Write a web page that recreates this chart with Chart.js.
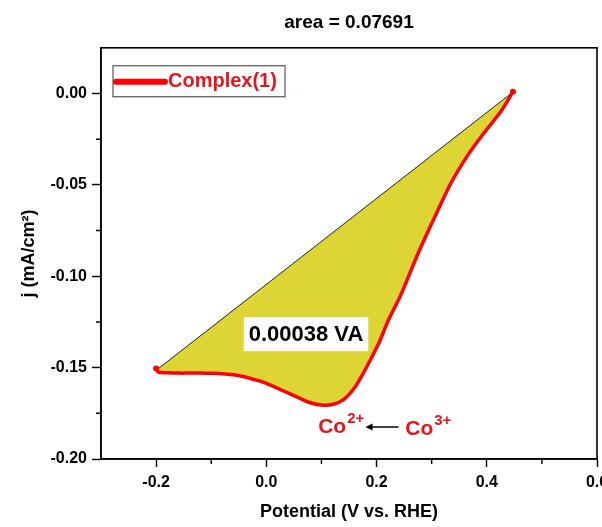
<!DOCTYPE html>
<html>
<head>
<meta charset="utf-8">
<script src="https://cdn.jsdelivr.net/npm/chart.js@4/dist/chart.umd.min.js"></script>
<style>
  html, body { margin:0; padding:0; background:#fff; }
  #wrap { width:602px; height:527px; }
</style>
</head>
<body>
<div id="wrap"><canvas id="chart" width="602" height="527"></canvas></div>
<script>
const FONT = "'Liberation Sans', Arial, sans-serif";

// CV trace (cathodic sweep)
const potential = [-0.200, -0.196, -0.180, -0.160, -0.140, -0.120, -0.100, -0.080, -0.060, -0.045,
  -0.030, -0.015, 0.000, 0.020, 0.040, 0.060, 0.080, 0.100, 0.120, 0.140, 0.160, 0.175, 0.190,
  0.205, 0.220, 0.245, 0.275, 0.305, 0.335, 0.365, 0.395, 0.425, 0.4475];
const current = [-0.1505, -0.1524, -0.1528, -0.1530, -0.1530, -0.1530, -0.1531, -0.1533, -0.1539, -0.1547,
  -0.1558, -0.1571, -0.1586, -0.1612, -0.1640, -0.1667, -0.1692, -0.1705, -0.1702, -0.1675, -0.1610, -0.1535, -0.1450,
  -0.1360, -0.1250, -0.1095, -0.0877, -0.0680, -0.0490, -0.0340, -0.0215, -0.0100, 0.0010];

// straight baseline used for the area integration
const baseX = [-0.200, 0.4475];
const baseY = [-0.1515, 0.0008];

const X_TICKS = [-0.2, 0.0, 0.2, 0.4, 0.6];
const Y_TICKS = [-0.20, -0.15, -0.10, -0.05, 0.00];
const X_MINOR = [-0.1, 0.1, 0.3, 0.5];
const Y_MINOR = [-0.175, -0.125, -0.075, -0.025];

const seriesName = "Complex(1)";
const areaText = "0.00038 VA";
const areaPos = { x: 0.072, y: -0.1317 };
const co2Pos = { x: 0.094, y: -0.1858 };
const co3Pos = { x: 0.252, y: -0.1866 };
const arrowFrom = { x: 0.240, y: -0.1825 };
const arrowTo = { x: 0.180, y: -0.1825 };

const toXY = (xs, ys) => xs.map((x, i) => ({ x, y: ys[i] }));

// outward minor ticks + closed frame
const framePlugin = {
  id: "frame",
  afterDraw(chart) {
    const { ctx, chartArea: a, scales: { x, y } } = chart;
    ctx.save();
    ctx.strokeStyle = "#000"; ctx.lineWidth = 1.6;
    ctx.strokeRect(a.left, a.top, a.right - a.left, a.bottom - a.top);
    ctx.lineWidth = 1.4;
    ctx.beginPath();
    X_MINOR.forEach(v => { const px = x.getPixelForValue(v); ctx.moveTo(px, a.bottom); ctx.lineTo(px, a.bottom + 5); });
    Y_MINOR.forEach(v => { const py = y.getPixelForValue(v); ctx.moveTo(a.left, py); ctx.lineTo(a.left - 5, py); });
    ctx.stroke();
    ctx.restore();
  }
};

// legend box, area label and Co2+/Co3+ note
const notesPlugin = {
  id: "notes",
  afterDraw(chart) {
    const { ctx, chartArea: a, scales: { x, y } } = chart;
    ctx.save();
    // legend
    const lx = a.left + 12, ly = a.top + 18;
    ctx.strokeStyle = "#333"; ctx.lineWidth = 1;
    ctx.strokeRect(lx, ly, 172, 31);
    ctx.strokeStyle = "#ff0000"; ctx.lineWidth = 6; ctx.lineCap = "round";
    ctx.beginPath(); ctx.moveTo(lx + 3, ly + 16); ctx.lineTo(lx + 52, ly + 16); ctx.stroke();
    ctx.fillStyle = "#e8141c"; ctx.font = `bold 20px ${FONT}`;
    ctx.textAlign = "left"; ctx.textBaseline = "middle";
    ctx.fillText(seriesName, lx + 55, ly + 16);

    // area label on white box
    ctx.font = `bold 22px ${FONT}`;
    const ax = x.getPixelForValue(areaPos.x), ay = y.getPixelForValue(areaPos.y);
    const w = ctx.measureText(areaText).width;
    ctx.fillStyle = "#fff";
    ctx.fillRect(ax - w / 2 - 5, ay - 17, w + 10, 34);
    ctx.fillStyle = "#000"; ctx.textAlign = "center";
    ctx.fillText(areaText, ax, ay + 1);

    // Co labels
    ctx.textAlign = "left"; ctx.textBaseline = "alphabetic"; ctx.fillStyle = "#e8141c";
    const drawCo = (p, sup) => {
      const px = x.getPixelForValue(p.x), py = y.getPixelForValue(p.y);
      ctx.font = `bold 21px ${FONT}`;
      ctx.fillText("Co", px, py);
      const cw = ctx.measureText("Co").width;
      ctx.font = `bold 15px ${FONT}`;
      ctx.fillText(sup, px + cw + 1, py - 10);
    };
    drawCo(co2Pos, "2+");
    drawCo(co3Pos, "3+");

    // arrow
    const x1 = x.getPixelForValue(arrowFrom.x), y1 = y.getPixelForValue(arrowFrom.y);
    const x2 = x.getPixelForValue(arrowTo.x), y2 = y.getPixelForValue(arrowTo.y);
    ctx.strokeStyle = "#000"; ctx.lineWidth = 1.5; ctx.lineCap = "butt";
    ctx.beginPath(); ctx.moveTo(x1, y1); ctx.lineTo(x2 + 4, y2); ctx.stroke();
    ctx.fillStyle = "#000";
    ctx.beginPath(); ctx.moveTo(x2, y2); ctx.lineTo(x2 + 7, y2 - 3.5); ctx.lineTo(x2 + 7, y2 + 3.5); ctx.closePath(); ctx.fill();
    ctx.restore();
  }
};

const tickFont = { family: FONT, size: 16, weight: "bold" };
const titleFont = { family: FONT, size: 18, weight: "bold" };

new Chart(document.getElementById("chart").getContext("2d"), {
  type: "scatter",
  data: {
    datasets: [
      {
        label: seriesName, data: toXY(potential, current), showLine: true,
        borderColor: "#ff0000", borderWidth: 3.5, tension: 0.3,
        pointRadius: (c) => (c.dataIndex === 0 || c.dataIndex === potential.length - 1) ? 3 : 0,
        pointBackgroundColor: "#ff0000", pointBorderWidth: 0,
        fill: { target: 1 }, backgroundColor: "#dcd534"
      },
      {
        label: "baseline", data: toXY(baseX, baseY), showLine: true,
        borderColor: "#222", borderWidth: 1, pointRadius: 0, fill: false
      }
    ]
  },
  options: {
    responsive: false,
    animation: false,
    layout: { padding: { left: 0, right: 5, top: 0, bottom: 0 }, autoPadding: false },
    plugins: {
      legend: { display: false },
      tooltip: { enabled: false },
      filler: { drawTime: "beforeDatasetsDraw" },
      title: {
        display: true, fullSize: false, text: "area = 0.07691", color: "#000",
        font: { family: FONT, size: 19, weight: "bold" }, padding: { top: 11, bottom: 14 }
      }
    },
    scales: {
      x: {
        type: "linear", min: -0.3, max: 0.6,
        afterBuildTicks: (s) => { s.ticks = X_TICKS.map(v => ({ value: v })); },
        afterFit: (s) => { s.height = 68; s.paddingLeft = 0; s.paddingRight = 0; },
        ticks: { color: "#000", font: tickFont, padding: 6, maxRotation: 0, callback: (v) => Number(v).toFixed(1) },
        grid: { display: true, drawOnChartArea: false, drawTicks: true, tickLength: 8, tickColor: "#000", tickWidth: 1.4 },
        border: { display: true, color: "#000", width: 1.6 },
        title: { display: true, text: "Potential (V vs. RHE)", color: "#000", font: titleFont, padding: { top: 0, bottom: 4 } }
      },
      y: {
        type: "linear", min: -0.2, max: 0.025,
        afterBuildTicks: (s) => { s.ticks = Y_TICKS.map(v => ({ value: v })); },
        afterFit: (s) => { s.width = 101; s.paddingTop = 0; s.paddingBottom = 0; },
        ticks: { color: "#000", font: tickFont, padding: 5, callback: (v) => Number(v).toFixed(2) },
        grid: { display: true, drawOnChartArea: false, drawTicks: true, tickLength: 9, tickColor: "#000", tickWidth: 1.4 },
        border: { display: true, color: "#000", width: 1.6 },
        title: { display: true, text: "j (mA/cm²)", color: "#000", font: titleFont, padding: { top: 18, bottom: 0 } }
      }
    }
  },
  plugins: [framePlugin, notesPlugin]
});
</script>
</body>
</html>
